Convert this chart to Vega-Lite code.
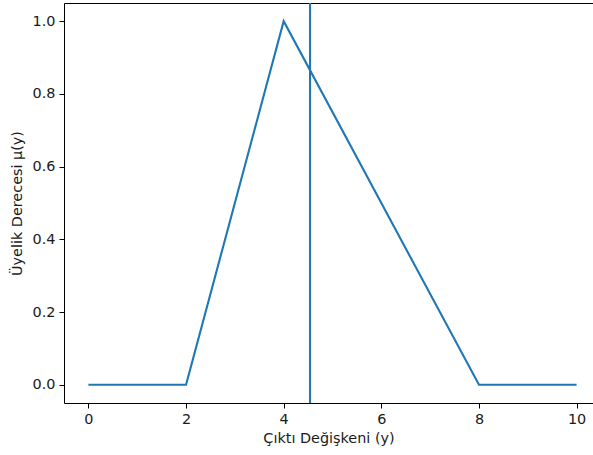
{
  "$schema": "https://vega.github.io/schema/vega-lite/v6.json",
  "width": 529,
  "height": 400,
  "autosize": "none",
  "padding": {"left": 64, "top": 3, "right": 0, "bottom": 52},
  "config": {
    "view": {"stroke": null},
    "font": "DejaVu Sans",
    "axis": {
      "grid": false,
      "domainColor": "#000000",
      "domainWidth": 1,
      "tickColor": "#000000",
      "tickWidth": 1,
      "tickSize": 5,
      "labelPadding": 4,
      "labelFont": "DejaVu Sans",
      "labelFontSize": 14.4,
      "labelColor": "#1a1a1a",
      "titleFont": "DejaVu Sans",
      "titleFontSize": 14.4,
      "titleFontWeight": "normal",
      "titleColor": "#1a1a1a"
    }
  },
  "resolve": {"axis": {"x": "independent"}},
  "layer": [
    {
      "data": {"values": [
        {"y_val": 0, "mu": 0},
        {"y_val": 2, "mu": 0},
        {"y_val": 4, "mu": 1},
        {"y_val": 8, "mu": 0},
        {"y_val": 10, "mu": 0}
      ]},
      "mark": {"type": "line", "color": "#1f77b4", "strokeWidth": 2.1, "clip": true},
      "encoding": {
        "x": {
          "field": "y_val", "type": "quantitative",
          "scale": {"domain": [-0.5, 10.336], "nice": false, "zero": false},
          "axis": {"values": [0, 2, 4, 6, 8, 10], "format": "d", "title": "Çıktı Değişkeni (y)", "titlePadding": 6, "orient": "bottom"}
        },
        "y": {
          "field": "mu", "type": "quantitative",
          "scale": {"domain": [-0.05, 1.05], "nice": false, "zero": false},
          "axis": {"values": [0, 0.2, 0.4, 0.6, 0.8, 1.0], "format": ".1f", "title": "Üyelik Derecesi μ(y)", "titlePadding": 8}
        }
      }
    },
    {
      "data": {"values": [{"centroid": 4.54}]},
      "mark": {"type": "rule", "color": "#1f77b4", "strokeWidth": 2.1},
      "encoding": {
        "x": {
          "field": "centroid", "type": "quantitative",
          "axis": {"orient": "top", "labels": false, "ticks": false, "title": null}
        }
      }
    }
  ]
}
